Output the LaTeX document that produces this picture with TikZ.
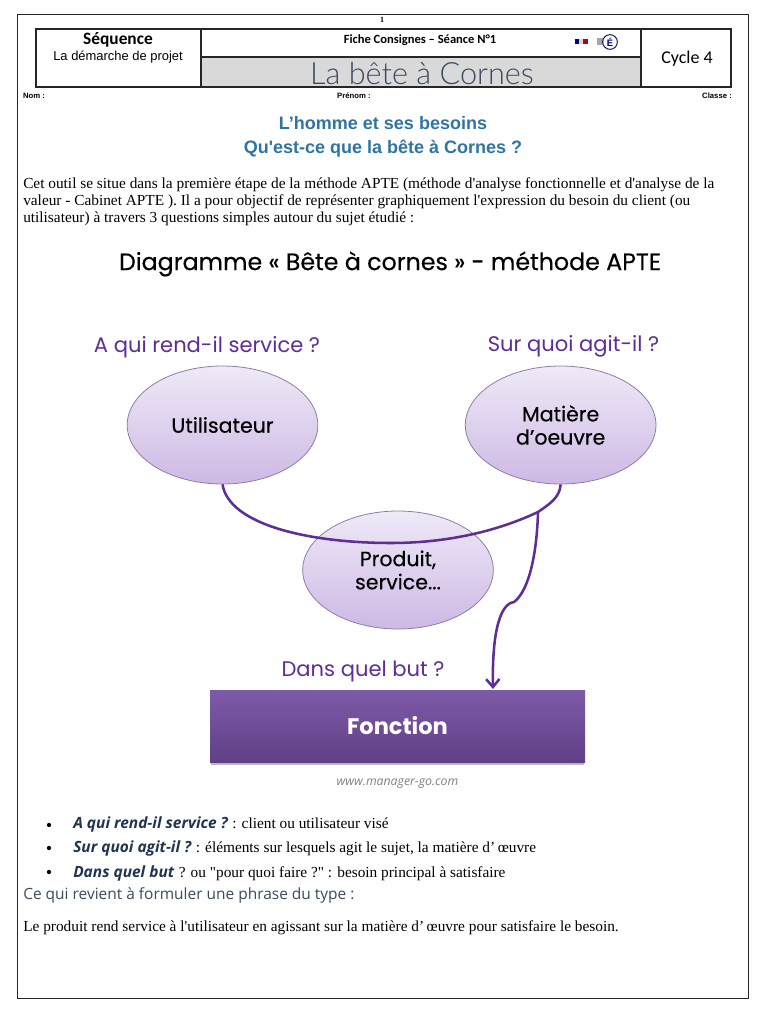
\documentclass[tikz,border=0pt]{standalone}
\usepackage{fontspec}
\usepackage{xcolor}
\usetikzlibrary{arrows.meta, positioning, shapes.geometric}
\setmainfont{Liberation Serif}
\newfontfamily\timesfont{Liberation Serif}
\newfontfamily\arialfont{Liberation Sans}
\newfontfamily\calibrifont{Carlito}
\newfontfamily\opensfont{Open Sans}
\newfontfamily\latofont{Lato Light}
\newfontfamily\popfont{Poppins}
\newfontfamily\popmedfont[FakeBold=0.35]{Poppins}
\definecolor{headblue}{HTML}{2F75A3}
\definecolor{violetline}{HTML}{5E2D97}
\definecolor{violettop}{HTML}{EFE9F7}
\definecolor{violetlow}{HTML}{CDB9E5}
\definecolor{violetedge}{HTML}{8E7EA6}
\definecolor{boxtop}{HTML}{7F5AA8}
\definecolor{boxlow}{HTML}{5F4086}
\definecolor{slate}{HTML}{3A4A60}
\definecolor{navy}{HTML}{1F3450}
\newcommand{\sz}[1]{\fontsize{#1}{#1}\selectfont}

\begin{document}
\begin{tikzpicture}[
  x=0.75pt, y=-0.75pt,
  frame/.style={draw=black!85, line width=0.75pt},
  tableline/.style={draw=black!85, line width=0.95pt},
  bodytext/.style={anchor=base west, inner sep=0pt, font=\timesfont\sz{11.5}},
  heading/.style={inner sep=0pt, text=headblue, font=\arialfont\bfseries\sz{13.5}},
  question/.style={inner sep=0pt, text=violetline, font=\popfont\sz{15.8}},
  horn/.style={draw=violetedge, line width=0.6pt, ellipse, minimum width=143pt, minimum height=88.5pt,
               inner sep=0pt, top color=violettop, bottom color=violetlow,
               align=center, font=\popmedfont\sz{15.4}},
  link/.style={draw=violetline, line width=1.9pt},
  dotitem/.style={circle, fill=black, inner sep=0pt, minimum size=3.2pt},
  lead/.style={anchor=base west, inner sep=0pt, text=navy, font=\opensfont\bfseries\itshape\sz{11.6}},
  plainrest/.style={anchor=base west, inner sep=0pt, font=\timesfont\sz{11.5}},
  smallbold/.style={inner sep=0pt, font=\arialfont\bfseries\sz{5.8}}
]
  \useasboundingbox (0,0) rectangle (768,1024);
  \fill[white] (0,0) rectangle (768,1024);

  % Page frame
  \draw[frame] (17,15) rectangle (748,998);
  \node[inner sep=0pt, font=\timesfont\bfseries\sz{6}] (pagenum) at (382,20) {1};

  % Header table
  \fill[black!15] (201,57) rectangle (641,87);
  \draw[tableline] (36,29) rectangle (731,87);
  \draw[tableline] (201,29) -- (201,87);
  \draw[tableline] (641,29) -- (641,87);
  \draw[tableline] (201,57) -- (641,57);

  \node[inner sep=0pt, font=\calibrifont\bfseries\sz{13}] (seq) at (118,40) {Séquence};
  \node[inner sep=0pt, font=\arialfont\sz{9.7}] (seqname) at (118,57) {La démarche de projet};
  \node[inner sep=0pt, font=\calibrifont\bfseries\sz{9.4}] (sheet) at (420,40) {Fiche Consignes – Séance N°1};
  \node[inner sep=0pt, text=slate, font=\latofont\sz{23}] (title) at (422,73) {La bête à Cornes};
  \node[inner sep=0pt, font=\calibrifont\sz{13.5}] (cycle) at (687,59) {Cycle 4};

  % Small logo
  \fill[blue!60!black] (575,39) rectangle (579,44);
  \fill[white!85!black] (579,39) rectangle (583,44);
  \fill[red!75!black] (583,39) rectangle (588,44);
  \fill[black!35] (597,38) rectangle (603,45);
  \node[draw=blue!45!black, circle, line width=0.7pt, minimum size=11pt, inner sep=0pt,
        text=blue!45!black, font=\arialfont\bfseries\sz{7}] (logo) at (610,42) {É};

  % Name line
  \node[smallbold] (nom) at (34,96) {Nom :};
  \node[smallbold] (prenom) at (354,96) {Prénom :};
  \node[smallbold] (classe) at (717,96) {Classe :};

  % Headings
  \node[heading] (head1) at (383,123) {L’homme et ses besoins};
  \node[heading] (head2) at (383,149) {Qu'est-ce que la bête à Cornes ?};

  % Intro text
  \node[bodytext] (intro1) at (23,188) {Cet outil se situe dans la première étape de la méthode APTE (méthode d'analyse fonctionnelle et d'analyse de la};
  \node[bodytext] (intro2) at (23,205) {valeur - Cabinet APTE ). Il a pour objectif de représenter graphiquement l'expression du besoin du client (ou};
  \node[bodytext] (intro3) at (23,222) {utilisateur) à travers 3 questions simples autour du sujet étudié :};

  % Diagram
  \node[inner sep=0pt, font=\popmedfont\sz{17.8}] (dtitle) at (390,264) {Diagramme « Bête à cornes » - méthode APTE};

  \node[horn] (user) at (222.5,425) {Utilisateur};
  \node[horn, right=110pt of user] (matter) {Matière\\[2pt]d’oeuvre};
  \node[horn] (product) at (398,570) {Produit,\\[2pt]service...};

  \node[question] (q1) at (207,347) {A qui rend-il service ?};
  \node[question] (q2) at (573.5,346) {Sur quoi agit-il ?};
  \node[question] (q3) at (363,671) {Dans quel but ?};

  % Box with its shadow
  \fill[black!28] (211,762) rectangle (584,765);
  \node[inner sep=0pt, minimum width=281.25pt, minimum height=54pt, top color=boxtop, bottom color=boxlow,
        text=white, font=\popfont\bfseries\sz{16.9}] (func) at (397.5,726) {Fonction};
  \node[inner sep=0pt, below=12pt of func, text=black!50, font=\opensfont\itshape\sz{9.2}] (web) {www.manager-go.com};

  % Horns and arrow
  \coordinate (low) at (391,543);
  \coordinate (join) at (538,512);
  \coordinate (bend) at (514,602);
  \coordinate (tip) at (493,689);
  \draw[link] (user.south) .. controls (229,525) and (310,543) .. (low)
              .. controls (450,543) and (500,530) .. (join)
              .. controls (548,505) and (560,498) .. (matter.south);
  \draw[link, -{Straight Barb[length=6pt,width=10pt]}] (join) .. controls (537,550) and (530,590) .. (bend)
              .. controls (498,604) and (492,640) .. (tip);

  % Bullet list
  \node[dotitem] (dot1) at (49,825) {};
  \node[dotitem] (dot2) at (49,848) {};
  \node[dotitem] (dot3) at (49,872) {};
  \node[lead] (item1) at (73,828) {A qui rend-il service ?};
  \node[plainrest, right=3pt of item1.base east, anchor=base west] (rest1) {: client ou utilisateur visé};
  \node[lead] (item2) at (73,852) {Sur quoi agit-il ?};
  \node[plainrest, right=3pt of item2.base east, anchor=base west] (rest2) {: éléments sur lesquels agit le sujet, la matière d’\,œuvre};
  \node[lead] (item3) at (73,877) {Dans quel but};
  \node[plainrest, right=3pt of item3.base east, anchor=base west] (rest3) {? ou "pour quoi faire ?" : besoin principal à satisfaire};

  % Closing text
  \node[anchor=base west, inner sep=0pt, text=slate, font=\opensfont\sz{11.6}] (close1) at (23,899) {Ce qui revient à formuler une phrase du type :};
  \node[bodytext] (close2) at (23,931) {Le produit rend service à l'utilisateur en agissant sur la matière d’\,œuvre pour satisfaire le besoin.};
\end{tikzpicture}
\end{document}
